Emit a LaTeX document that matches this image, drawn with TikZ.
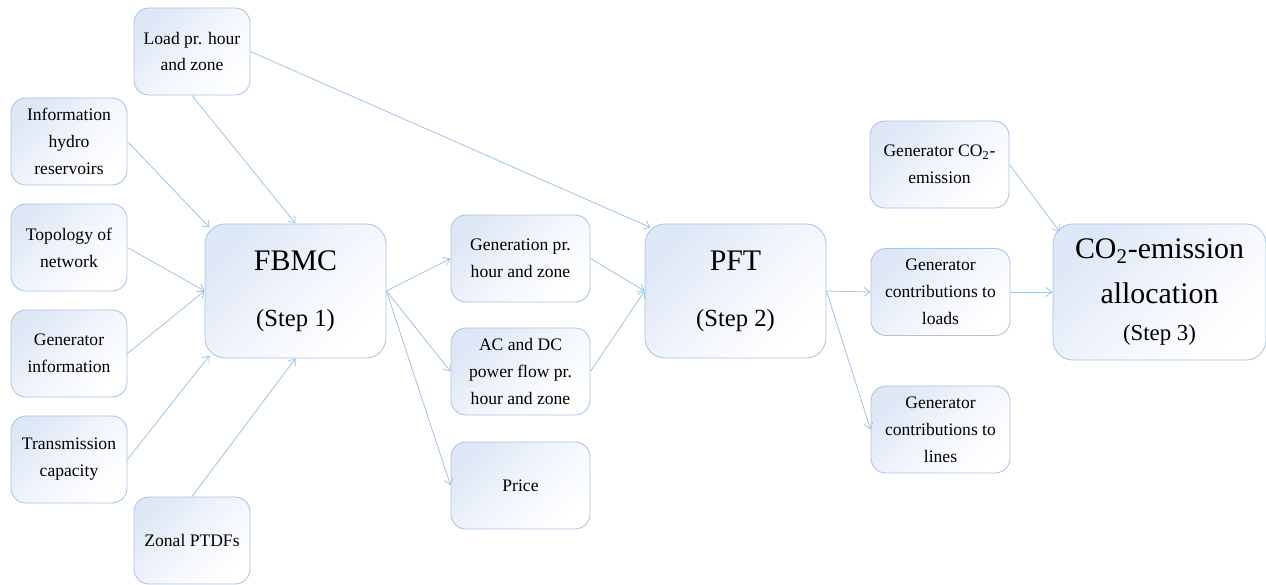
\documentclass[tikz,border=0pt]{standalone}
\usepackage{fontspec}
\setmainfont{Liberation Serif}
\usepackage{xcolor}
\usepackage{tikz}
\usetikzlibrary{shapes,arrows,positioning,calc,arrows.meta}

\definecolor{boxline}{RGB}{170,198,230}
\definecolor{boxfill}{RGB}{222,231,246}
\definecolor{flowline}{RGB}{160,195,230}

\tikzset{
    databox/.style={draw=boxline, line width=0.5pt, rounded corners=0.3cm,
        top color=boxfill, bottom color=white, middle color=white!60!boxfill, shading angle=45,
        align=center, inner sep=0pt, minimum width=2.32cm, minimum height=1.74cm,
        font=\fontsize{10}{15.3}\selectfont},
    widebox/.style={databox, minimum width=2.78cm},
    stepbox/.style={databox, rounded corners=0.4cm, minimum width=3.62cm, minimum height=2.68cm,
        font=\fontsize{17}{32}\selectfont},
    flow/.style={draw=flowline, line width=0.45pt, -{Straight Barb[length=1.2mm,width=1.8mm]}}
}

\begin{document}
\begin{tikzpicture}
    \useasboundingbox (0,0) rectangle (25.32,11.68);

    % Inputs to FBMC
    \node[databox] (load) at (3.84,10.65) {Load pr. hour\\and zone};
    \node[databox] (hydro) at (1.38,8.85) {Information\\hydro\\reservoirs};
    \node[databox] (topo) at (1.38,6.73) {Topology of\\network};
    \node[databox] (geninfo) at (1.38,4.61) {Generator\\information};
    \node[databox] (trans) at (1.38,2.49) {Transmission\\capacity};
    \node[databox] (zonal) at (3.84,0.87) {Zonal PTDFs};

    % Step 1
    \node[stepbox] (fbmc) at (5.91,5.86) {FBMC\\{\fontsize{14}{17}\selectfont (Step 1)}};

    % FBMC results
    \node[widebox] (gen) at (10.41,6.51) {Generation pr.\\hour and zone};
    \node[widebox] (acdc) at (10.41,4.25) {AC and DC\\power flow pr.\\hour and zone};
    \node[widebox] (price) at (10.41,1.97) {Price};

    % Step 2
    \node[stepbox] (pft) at (14.71,5.86) {PFT\\{\fontsize{14}{17}\selectfont (Step 2)}};

    % PFT results
    \node[widebox] (gco2) at (18.79,8.39) {Generator CO\textsubscript{2}-\\emission};
    \node[widebox] (gload) at (18.81,5.84) {Generator\\contributions to\\loads};
    \node[widebox] (gline) at (18.81,3.09) {Generator\\contributions to\\lines};

    % Step 3
    \node[stepbox, minimum width=4.26cm, minimum height=2.72cm, font=\fontsize{17}{21}\selectfont]
        (alloc) at (23.19,5.84) {CO\textsubscript{2}-emission\\[4.5pt]allocation\\{\fontsize{13}{15}\selectfont (Step 3)}};

    % Connectors
    \draw[flow] (load.south) -- (fbmc.north);
    \draw[flow] (load.east) -- ($(pft.north west)+(0.12,-0.08)$);
    \draw[flow] (hydro.east) -- ($(fbmc.north west)+(0.1,-0.08)$);
    \draw[flow] (topo.east) -- (fbmc.west);
    \draw[flow] (geninfo.east) -- (fbmc.west);
    \draw[flow] (trans.east) -- ($(fbmc.south west)+(0.1,0.06)$);
    \draw[flow] (zonal.north) -- (fbmc.south);
    \draw[flow] (fbmc.east) -- (gen.west);
    \draw[flow] (fbmc.east) -- (acdc.west);
    \draw[flow] (fbmc.east) -- (price.west);
    \draw[flow] (gen.east) -- (pft.west);
    \draw[flow] (acdc.east) -- (pft.west);
    \draw[flow] (pft.east) -- (gload.west);
    \draw[flow] (pft.east) -- (gline.west);
    \draw[flow] (gco2.east) -- ($(alloc.north west)+(0.14,-0.16)$);
    \draw[flow] (gload.east) -- (alloc.west);
\end{tikzpicture}
\end{document}
